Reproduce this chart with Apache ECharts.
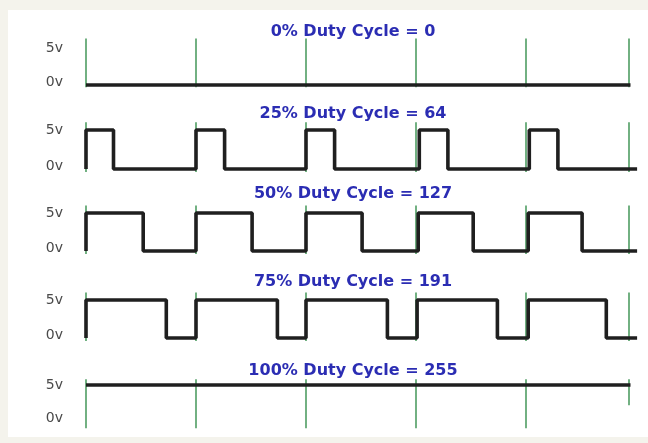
<!DOCTYPE html>
<html>
<head>
<meta charset="utf-8">
<script src="https://cdn.jsdelivr.net/npm/echarts@6/dist/echarts.min.js"></script>
<style>
    html, body { margin: 0; padding: 0; background: #f4f3ec; }
    #graph { width: 648px; height: 443px; }
</style>
</head>
<body>
<div id="graph"></div>
<script>
// one row per duty cycle
var titles = ['0% Duty Cycle = 0', '25% Duty Cycle = 64', '50% Duty Cycle = 127',
              '75% Duty Cycle = 191', '100% Duty Cycle = 255'];
var levelValues = [0, 5];
var levelLabels = ['0v', '5v'];
// green period markers (time)
var periodMarks = [0, 1, 2, 3, 4, 4.93];

// edge points [time, volts], drawn as a step line
var duty0 = [[0, 0], [4.95, 0]];
var duty25 = [[0, 0], [0, 5], [0.25, 0], [1, 5], [1.26, 0], [2, 5], [2.26, 0],
              [3.03, 5], [3.29, 0], [4.03, 5], [4.29, 0], [5.01, 0]];
var duty50 = [[0, 0], [0, 5], [0.52, 0], [1, 5], [1.51, 0], [2, 5], [2.51, 0],
              [3.02, 5], [3.52, 0], [4.02, 5], [4.51, 0], [5.01, 0]];
var duty75 = [[0, 0], [0, 5], [0.73, 0], [1, 5], [1.74, 0], [2, 5], [2.74, 0],
              [3.01, 5], [3.74, 0], [4.02, 5], [4.73, 0], [5.01, 0]];
var duty100 = [[0, 5], [4.95, 5]];
var waves = [duty0, duty25, duty50, duty75, duty100];

// layout of each row (pixel y of 5v and 0v levels)
var rowHi = [48, 130, 213, 300, 385];
var rowLo = [85, 169, 251, 338, 421];
var markTop = [6.3, 6.0, 6.0, 6.0, 5.8];
var markBottom = [-0.3, -0.4, -0.4, -0.4, -1.0];

var yMin = -1.4, yMax = 6.4;
var unit = 110;

var myChart = echarts.init(document.getElementById('graph'));

var grids = [], xAxes = [], yAxes = [], series = [], titleList = [];
var titleY = [33, 115, 195, 283, 372];

for (var i = 0; i < 5; i++) {
    var k = (rowLo[i] - rowHi[i]) / 5;
    grids.push({
        left: 86,
        top: rowHi[i] - (yMax - 5) * k,
        width: unit * 5.07,
        height: (yMax - yMin) * k
    });
    xAxes.push({ gridIndex: i, type: 'value', min: 0, max: 5.07, show: false });
    yAxes.push({
        gridIndex: i,
        type: 'value',
        min: yMin,
        max: yMax,
        axisLine: { show: false },
        axisTick: { show: false },
        splitLine: { show: false },
        axisLabel: {
            customValues: levelValues,
            margin: 23,
            formatter: function (v) {
                return v === 5 ? '{a|' + levelLabels[1] + '}' : '{b|' + levelLabels[0] + '}';
            },
            rich: {
                a: { fontFamily: 'DejaVu Sans', fontSize: 14, color: '#4a4a4a' },
                b: { fontFamily: 'DejaVu Sans', fontSize: 14, color: '#4a4a4a', padding: [0, 0, 6, 0] }
            }
        }
    });

    var markData = periodMarks.map(function (t, j) {
        var bottom = markBottom[i];
        if (i === 4 && j === periodMarks.length - 1) bottom = 2.2;
        return { coords: [[t, markTop[i]], [t, bottom]] };
    });
    series.push({
        type: 'lines',
        coordinateSystem: 'cartesian2d',
        xAxisIndex: i,
        yAxisIndex: i,
        silent: true,
        z: 1,
        lineStyle: { color: '#4f9d63', width: 1.6, opacity: 1 },
        data: markData
    });
    series.push({
        type: 'line',
        xAxisIndex: i,
        yAxisIndex: i,
        step: 'end',
        symbol: 'none',
        clip: false,
        z: 3,
        lineStyle: { color: '#1f1f1f', width: 3.6 },
        data: waves[i]
    });

    titleList.push({
        text: titles[i],
        left: 353,
        top: titleY[i] - 9,
        textAlign: 'center',
        padding: 0,
        textStyle: {
            fontFamily: 'DejaVu Sans',
            fontSize: 16,
            fontWeight: 'bold',
            color: '#2b2db3'
        }
    });
}

var option = {
    animation: false,
    backgroundColor: 'transparent',
    title: titleList,
    graphic: [{
        type: 'rect',
        shape: { x: 8, y: 10, width: 640, height: 427 },
        style: { fill: '#ffffff' },
        z: -10,
        silent: true
    }],
    grid: grids,
    xAxis: xAxes,
    yAxis: yAxes,
    series: series
};

myChart.setOption(option);
</script>
</body>
</html>
